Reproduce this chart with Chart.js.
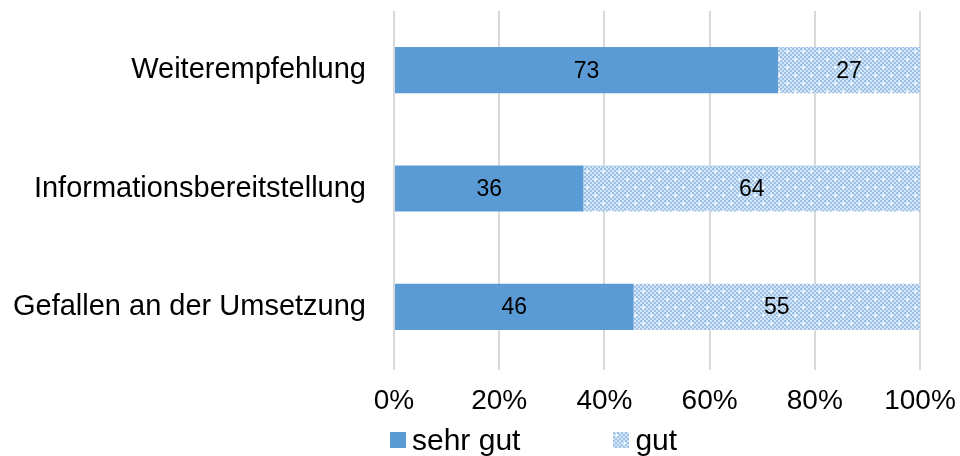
<!DOCTYPE html>
<html>
<head>
<meta charset="utf-8">
<script src="https://cdn.jsdelivr.net/npm/chart.js@4/dist/chart.umd.min.js"></script>
<style>
  html, body { margin: 0; padding: 0; background: #fff; }
  body { width: 960px; height: 456px; overflow: hidden; font-family: 'Liberation Sans', Arial, sans-serif; }
  .chart-wrap { position: relative; width: 960px; height: 456px; }
  .legend { position: absolute; left: 390px; top: 422px; height: 36px; display: flex; align-items: center; gap: 93px; font-size: 30px; line-height: 36px; color: #000; }
  .legend__item { display: flex; align-items: center; gap: 6px; }
  .legend__box { width: 16px; height: 16px; display: block; }
</style>
</head>
<body>
<div class="chart-wrap">
  <canvas id="chart"></canvas>
  <div class="legend" id="legend"></div>
</div>
<script>
const categories = ['Weiterempfehlung', 'Informationsbereitstellung', 'Gefallen an der Umsetzung'];
const seriesNames = ['sehr gut', 'gut'];
const sehrGut = [73, 36, 46];
const gut = [27, 64, 55];
const tickLabels = ['0%', '20%', '40%', '60%', '80%', '100%'];

const FONT = "'Liberation Sans', Arial, sans-serif";
const SOLID = '#5b9bd5';

// checker + plus pattern for "gut"
function makePattern() {
  const c = document.createElement('canvas');
  c.width = 16;
  c.height = 16;
  const ctx = c.getContext('2d');
  ctx.fillStyle = '#d5e5f6';
  ctx.fillRect(0, 0, 16, 16);
  ctx.fillStyle = '#9dc2e8';
  for (let y = 0; y < 16; y += 2) {
    for (let x = 0; x < 16; x += 2) {
      if (((x + y) / 2) % 2 === 0) ctx.fillRect(x, y, 2, 2);
    }
  }
  ctx.fillStyle = '#ffffff';
  [[3, 3], [11, 11]].forEach(([px, py]) => {
    ctx.fillRect(px - 1, py, 3, 1);
    ctx.fillRect(px, py - 1, 1, 3);
  });
  return c;
}
const patternCanvas = makePattern();
const pattern = document.getElementById('chart').getContext('2d').createPattern(patternCanvas, 'repeat');

// 100% stacked: share of each row
const totals = sehrGut.map((v, i) => v + gut[i]);
const sehrGutPct = sehrGut.map((v, i) => (v / totals[i]) * 100);
const gutPct = gut.map((v, i) => (v / totals[i]) * 100);
const rawValues = [sehrGut, gut];

const barLabels = {
  id: 'barLabels',
  afterDatasetsDraw(chart) {
    const { ctx } = chart;
    ctx.save();
    ctx.font = `23px ${FONT}`;
    ctx.fillStyle = '#000';
    ctx.textAlign = 'center';
    ctx.textBaseline = 'middle';
    chart.data.datasets.forEach((ds, di) => {
      chart.getDatasetMeta(di).data.forEach((bar, i) => {
        const { x, base, y } = bar.getProps(['x', 'base', 'y'], true);
        ctx.fillText(String(rawValues[di][i]), (x + base) / 2, y + 1);
      });
    });
    ctx.restore();
  },
};

new Chart(document.getElementById('chart'), {
  type: 'bar',
  data: {
    labels: categories,
    datasets: [
      { label: seriesNames[0], data: sehrGutPct, backgroundColor: SOLID },
      { label: seriesNames[1], data: gutPct, backgroundColor: pattern },
    ],
  },
  plugins: [barLabels],
  options: {
    indexAxis: 'y',
    responsive: true,
    maintainAspectRatio: false,
    animation: false,
    layout: { autoPadding: false, padding: { top: 11, right: 40, left: 0, bottom: 36 } },
    plugins: {
      legend: { display: false },
      tooltip: { enabled: false },
    },
    datasets: {
      bar: { categoryPercentage: 1, barPercentage: 0.39 },
    },
    scales: {
      x: {
        stacked: true,
        min: 0,
        max: 100,
        border: { display: false },
        grid: { color: '#d9d9d9', lineWidth: 2, drawTicks: true, tickLength: 4, tickColor: '#d9d9d9' },
        afterFit(scale) {
          scale.height = 54;
          scale.paddingLeft = 0;
          scale.paddingRight = 0;
        },
        ticks: {
          stepSize: 20,
          padding: 14,
          color: '#000',
          font: { family: FONT, size: 28 },
          callback: (v, i) => tickLabels[i],
        },
      },
      y: {
        stacked: true,
        border: { display: false },
        grid: { display: false },
        afterFit(scale) {
          scale.width = 394;
          scale.paddingTop = 0;
          scale.paddingBottom = 0;
        },
        ticks: {
          padding: 20,
          color: '#000',
          font: { family: FONT, size: 29 },
        },
      },
    },
  },
});

// legend
const legendEl = document.getElementById('legend');
seriesNames.forEach((name, i) => {
  const item = document.createElement('span');
  item.className = 'legend__item';
  const box = document.createElement('canvas');
  box.className = 'legend__box';
  box.width = 16;
  box.height = 16;
  const bctx = box.getContext('2d');
  bctx.fillStyle = i === 0 ? SOLID : bctx.createPattern(patternCanvas, 'repeat');
  bctx.fillRect(0, 0, 16, 16);
  const text = document.createElement('span');
  text.textContent = name;
  item.append(box, text);
  legendEl.append(item);
});
</script>
</body>
</html>
